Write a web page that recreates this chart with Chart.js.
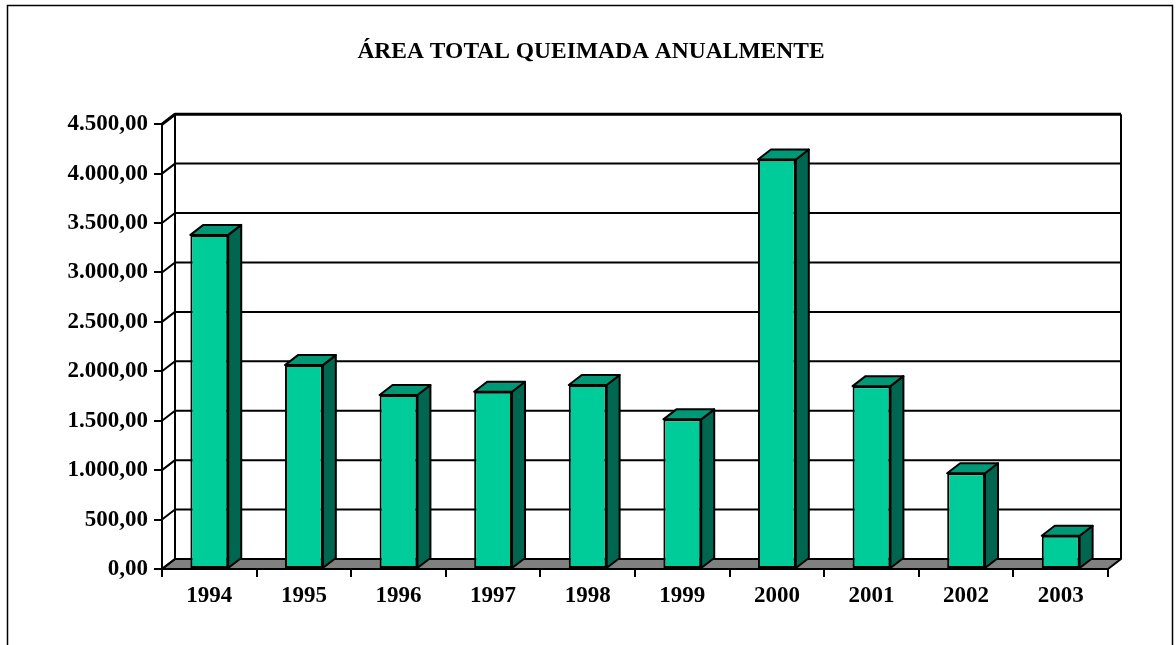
<!DOCTYPE html>
<html lang="pt">
<head>
  <meta charset="UTF-8" />
  <title>Área total queimada anualmente</title>
  <script src="https://cdn.jsdelivr.net/npm/chart.js"></script>
  <style>
    body {
      margin: 0;
      background-color: #fff;
    }
    .chart-box {
      width: 1176px;
      height: 645px;
    }
  </style>
</head>
<body>
  <div class="chart-box">
    <canvas id="areaChart" width="1176" height="645"></canvas>
  </div>

  <script>
    // dados
    const anos = ['1994', '1995', '1996', '1997', '1998', '1999', '2000', '2001', '2002', '2003'];
    const areaQueimada = [3380, 2063, 1760, 1793, 1862, 1514, 4143, 1850, 968, 336];
    const yMax = 4500;
    const yStep = 500;

    // profundidade do efeito 3D (px)
    const depth = { dx: 13, dy: 10 };
    const serif = '"Liberation Serif", "Times New Roman", serif';

    // 4500 -> "4.500,00"
    function formatBR(v) {
      const [i, d] = Number(v).toFixed(2).split('.');
      return i.replace(/\B(?=(\d{3})+(?!\d))/g, '.') + ',' + d;
    }

    const wall3d = {
      id: 'wall3d',
      beforeDraw(chart) {
        const c = chart.ctx;
        c.save();
        c.fillStyle = '#fff';
        c.fillRect(0, 0, chart.width, chart.height);
        c.strokeStyle = '#000';
        c.lineWidth = 1.5;
        c.strokeRect(7.5, 5.5, 1165, 700);
        c.restore();
      },
      beforeDatasetsDraw(chart) {
        const { ctx: c, chartArea: a, scales: { y } } = chart;
        const { dx, dy } = depth;
        const y0 = y.getPixelForValue(0);
        const yTop = y.getPixelForValue(y.max);
        c.save();
        c.strokeStyle = '#000';
        c.lineJoin = 'round';

        // piso
        c.fillStyle = '#808080';
        c.lineWidth = 2;
        c.beginPath();
        c.moveTo(a.left, y0);
        c.lineTo(a.right, y0);
        c.lineTo(a.right + dx, y0 - dy);
        c.lineTo(a.left + dx, y0 - dy);
        c.closePath();
        c.fill();
        c.stroke();

        // linhas de grade na parede do fundo
        y.ticks.forEach(t => {
          const py = y.getPixelForValue(t.value);
          c.lineWidth = t.value === y.max ? 3 : 2;
          c.beginPath();
          c.moveTo(a.left, py);
          c.lineTo(a.left + dx, py - dy);
          c.lineTo(a.right + dx, py - dy);
          c.stroke();
        });

        // bordas da parede
        c.lineWidth = 2;
        c.beginPath();
        c.moveTo(a.left + dx, yTop - dy);
        c.lineTo(a.left + dx, y0 - dy);
        c.moveTo(a.right + dx, yTop - dy);
        c.lineTo(a.right + dx, y0 - dy);
        c.stroke();
        c.restore();
      },
      afterDatasetsDraw(chart) {
        const c = chart.ctx;
        const { dx, dy } = depth;
        const meta = chart.getDatasetMeta(0);
        c.save();
        c.strokeStyle = '#000';
        c.lineWidth = 2;
        c.lineJoin = 'round';
        meta.data.forEach(bar => {
          const { x, y, base, width } = bar.getProps(['x', 'y', 'base', 'width'], true);
          const l = x - width / 2;
          const r = x + width / 2;
          // lateral
          c.fillStyle = '#006650';
          c.beginPath();
          c.moveTo(r, y);
          c.lineTo(r + dx, y - dy);
          c.lineTo(r + dx, base - dy);
          c.lineTo(r, base);
          c.closePath();
          c.fill();
          c.stroke();
          // topo
          c.fillStyle = '#009977';
          c.beginPath();
          c.moveTo(l, y);
          c.lineTo(l + dx, y - dy);
          c.lineTo(r + dx, y - dy);
          c.lineTo(r, y);
          c.closePath();
          c.fill();
          c.stroke();
        });
        c.restore();
      }
    };

    const ctx = document.getElementById('areaChart').getContext('2d');
    new Chart(ctx, {
      type: 'bar',
      data: {
        labels: anos,
        datasets: [{
          data: areaQueimada,
          backgroundColor: '#00CC99',
          borderColor: '#000',
          borderWidth: 2,
          borderSkipped: false,
          categoryPercentage: 1,
          barPercentage: 0.4
        }]
      },
      options: {
        responsive: false,
        animation: false,
        layout: {
          padding: { top: 10, left: 6, right: 0, bottom: 0 }
        },
        plugins: {
          legend: { display: false },
          tooltip: { enabled: false },
          title: {
            display: true,
            text: 'ÁREA TOTAL QUEIMADA ANUALMENTE',
            color: '#000',
            font: { family: serif, size: 23.5, weight: 'bold' },
            padding: { top: 28, bottom: 58 }
          }
        },
        scales: {
          x: {
            afterFit(scale) { scale.height = 76; },
            grid: {
              offset: true,
              drawOnChartArea: false,
              drawTicks: true,
              tickLength: 8,
              color: '#000',
              lineWidth: 2
            },
            border: { display: true, color: '#000', width: 2 },
            ticks: {
              color: '#000',
              padding: 5,
              font: { family: serif, size: 23, weight: 'bold' }
            }
          },
          y: {
            min: 0,
            max: yMax,
            afterFit(scale) { scale.width = 156; },
            grid: {
              drawOnChartArea: false,
              drawTicks: true,
              tickLength: 8,
              color: '#000',
              lineWidth: 2
            },
            border: { display: true, color: '#000', width: 2 },
            ticks: {
              stepSize: yStep,
              color: '#000',
              padding: 6,
              font: { family: serif, size: 23, weight: 'bold' },
              callback: v => formatBR(v)
            }
          },
          // empty right axis: only reserves the space right of the floor
          yRight: {
            position: 'right',
            min: 0,
            max: yMax,
            afterFit(scale) { scale.width = 68; },
            grid: { display: false },
            border: { display: false },
            ticks: { display: false }
          }
        }
      },
      plugins: [wall3d]
    });
  </script>
</body>
</html>
